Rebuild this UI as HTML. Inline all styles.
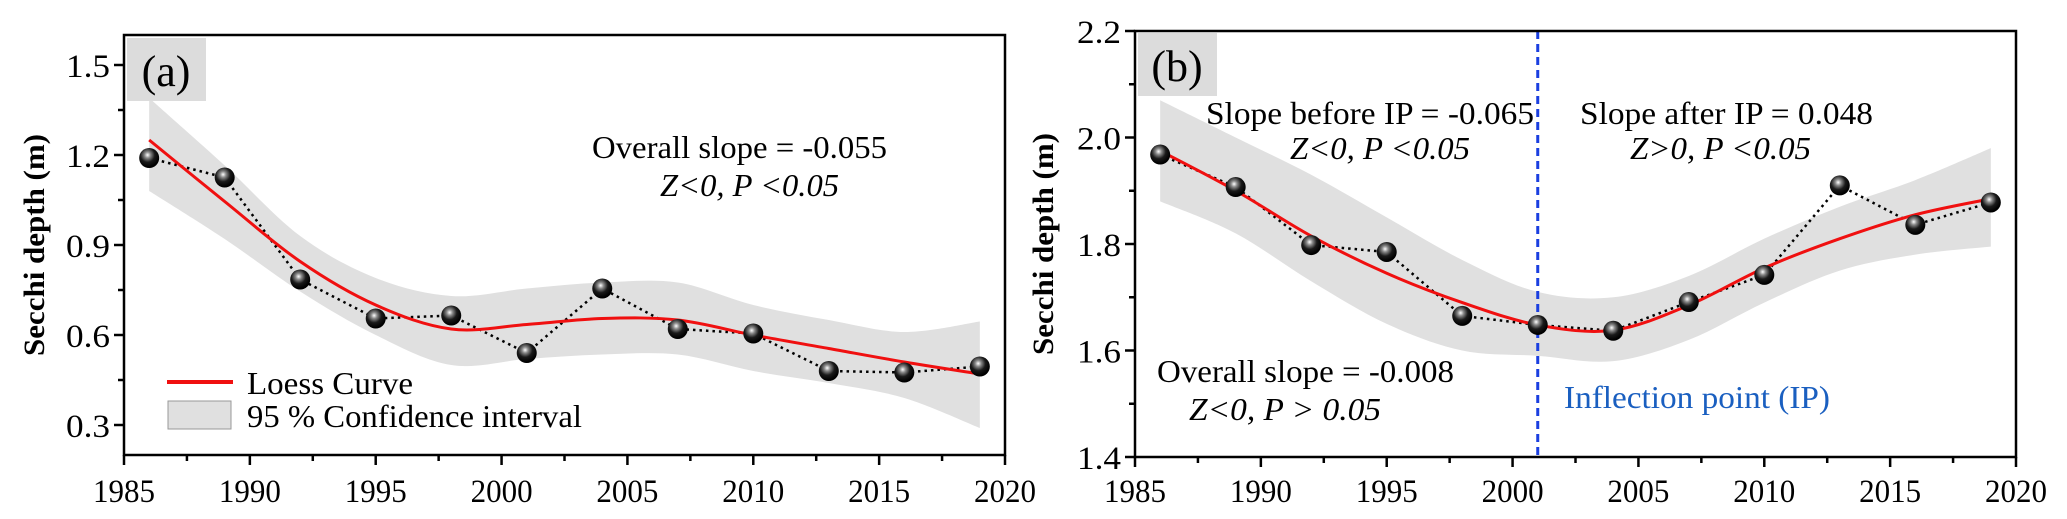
<!DOCTYPE html>
<html><head><meta charset="utf-8"><style>
html,body{margin:0;padding:0;background:#fff;}
svg{display:block;font-family:"Liberation Serif",serif;}
</style></head><body>
<svg id="fig" width="2067" height="519" viewBox="0 0 2067 519" xmlns="http://www.w3.org/2000/svg">
<defs>
<radialGradient id="ball" cx="0.42" cy="0.35" r="0.6">
<stop offset="0" stop-color="#ffffff"/><stop offset="0.25" stop-color="#8a8a8a"/><stop offset="0.6" stop-color="#1a1a1a"/><stop offset="1" stop-color="#000"/>
</radialGradient>
</defs>
<g id="pa"></g>
<g id="pb"></g>
</svg>
<script>
const years = [1986,1989,1992,1995,1998,2001,2004,2007,2010,2013,2016,2019];
const aObs = [1.19,1.125,0.785,0.655,0.665,0.54,0.755,0.62,0.605,0.48,0.475,0.495];
const aLoess = [1.25,1.045,0.845,0.70,0.62,0.635,0.655,0.65,0.60,0.555,0.51,0.47];
const aUpper = [1.39,1.165,0.93,0.79,0.73,0.755,0.775,0.775,0.70,0.65,0.61,0.645];
const aLower = [1.08,0.92,0.745,0.60,0.50,0.52,0.535,0.535,0.48,0.44,0.39,0.29];
const bObs = [1.968,1.907,1.798,1.785,1.665,1.648,1.637,1.691,1.742,1.91,1.836,1.878];
const bLoess = [1.975,1.90,1.815,1.745,1.69,1.648,1.638,1.685,1.755,1.81,1.855,1.885];
const bUpper = [2.07,2.0,1.93,1.85,1.77,1.71,1.70,1.74,1.81,1.87,1.92,1.98];
const bLower = [1.88,1.82,1.73,1.65,1.60,1.59,1.58,1.62,1.69,1.75,1.78,1.795];
const xTicks = [1985,1990,1995,2000,2005,2010,2015,2020];
const aYTicks = [0.3,0.6,0.9,1.2,1.5];
const bYTicks = [1.4,1.6,1.8,2.0,2.2];
const ipYear = 2001;

const NS="http://www.w3.org/2000/svg";
function mk(parent,tag,attrs,text){const e=document.createElementNS(NS,tag);for(const k in attrs)e.setAttribute(k,attrs[k]);if(text!==undefined)e.textContent=text;parent.appendChild(e);return e;}
function smooth(pts){let d=`M${pts[0][0]},${pts[0][1]}`;for(let i=0;i<pts.length-1;i++){const p0=pts[i-1]||pts[i],p1=pts[i],p2=pts[i+1],p3=pts[i+2]||p2;
const c1=[p1[0]+(p2[0]-p0[0])/6,p1[1]+(p2[1]-p0[1])/6],c2=[p2[0]-(p3[0]-p1[0])/6,p2[1]-(p3[1]-p1[1])/6];d+=` C${c1[0]},${c1[1]} ${c2[0]},${c2[1]} ${p2[0]},${p2[1]}`;}return d;}

function panel(g,cfg){
 const X=v=>cfg.x0+(v-1985)/35*(cfg.x1-cfg.x0);
 const Y=v=>cfg.yb+(v-cfg.ymin)/(cfg.ymax-cfg.ymin)*(cfg.yt-cfg.yb);
 const up=years.map((y,i)=>[X(y),Y(cfg.upper[i])]);
 const lo=years.map((y,i)=>[X(y),Y(cfg.lower[i])]).reverse();
 let d=smooth(up)+" L"+lo[0][0]+","+lo[0][1]+smooth(lo).replace(/^M[^C]*/," ")+" Z";
 let e=mk(g,'path',{d:d,fill:'#e0e0e0',stroke:'none'});
 
 
 e=mk(g,'rect',{x:cfg.lb[0],y:cfg.lb[1],width:79,height:63,fill:'#dcdcdc'});
 
 
 e=mk(g,'text',{x:cfg.lb[0]+39,y:cfg.lb[1]+48,'font-size':44,'text-anchor':'middle'},cfg.label);
 
 
 if(cfg.ip){e=mk(g,'line',{x1:X(ipYear),x2:X(ipYear),y1:cfg.yt,y2:cfg.yb,stroke:'#1a3fe0','stroke-width':3,'stroke-dasharray':'8 5'});
 
 }
 e=mk(g,'polyline',{points:years.map((y,i)=>X(y)+","+Y(cfg.obs[i])).join(" "),fill:'none',stroke:'#000','stroke-width':2.5,'stroke-dasharray':'2.5 4'});
 
 
 e=mk(g,'path',{d:smooth(years.map((y,i)=>[X(y),Y(cfg.loess[i])])),fill:'none',stroke:'#f01010','stroke-width':3});
 
 
 years.forEach((y,i)=>{const c=mk(g,'circle',{cx:X(y),cy:Y(cfg.obs[i]),r:10,fill:'url(#ball)'});
 
 });
 e=mk(g,'rect',{x:cfg.x0,y:cfg.yt,width:cfg.x1-cfg.x0,height:cfg.yb-cfg.yt,fill:'none',stroke:'#000','stroke-width':2.5});
 
 
 xTicks.forEach(t=>{mk(g,'line',{x1:X(t),x2:X(t),y1:cfg.yb,y2:cfg.yb+10,stroke:'#000','stroke-width':2.5});
  if(t<2020)mk(g,'line',{x1:X(t+2.5),x2:X(t+2.5),y1:cfg.yb,y2:cfg.yb+6,stroke:'#000','stroke-width':2.5});
  const tl=mk(g,'text',{x:X(t),y:502,'font-size':33,'text-anchor':'middle',textLength:62,lengthAdjust:'spacingAndGlyphs'},String(t));
  
  });
 cfg.yticks.forEach((t,i)=>{mk(g,'line',{x1:cfg.x0-10,x2:cfg.x0,y1:Y(t),y2:Y(t),stroke:'#000','stroke-width':2.5});
  if(i<cfg.yticks.length-1){const m=(t+cfg.yticks[i+1])/2;mk(g,'line',{x1:cfg.x0-6,x2:cfg.x0,y1:Y(m),y2:Y(m),stroke:'#000','stroke-width':2.5});}
  const tl=mk(g,'text',{x:cfg.x0-14,y:Y(t)+12,'font-size':33,'text-anchor':'end',textLength:44,lengthAdjust:'spacingAndGlyphs'},t.toFixed(1));
  
  });
 e=mk(g,'text',{x:0,y:0,'font-size':30,'font-weight':'bold','text-anchor':'middle',transform:`translate(${cfg.tx},${(cfg.yt+cfg.yb)/2}) rotate(-90)`,textLength:222,lengthAdjust:'spacingAndGlyphs'},'Secchi depth (m)');
 
 
}
panel(document.getElementById('pa'),{x0:124,x1:1005,yt:35,yb:455,ymin:0.2,ymax:1.6,obs:aObs,loess:aLoess,upper:aUpper,lower:aLower,yticks:aYTicks,label:'(a)',lb:[127,38],tx:44});
panel(document.getElementById('pb'),{x0:1135,x1:2016,yt:31,yb:457,ymin:1.4,ymax:2.2,obs:bObs,loess:bLoess,upper:bUpper,lower:bLower,yticks:bYTicks,label:'(b)',lb:[1138,33],tx:1053,ip:true});

const pa=document.getElementById('pa'),pb=document.getElementById('pb');
function txt(g,name,x,y,s,opt){const e=mk(g,'text',Object.assign({x:x,y:y,'font-size':32},opt||{}),s);
 
 return e;}
txt(pa,'overall-slope-a',592,158,'Overall slope = -0.055',{textLength:295,lengthAdjust:'spacingAndGlyphs'});
txt(pa,'significance-a',660,196,'Z<0, P <0.05',{'font-style':'italic',textLength:179,lengthAdjust:'spacingAndGlyphs'});
let l=mk(pa,'line',{x1:167,x2:233,y1:382,y2:382,stroke:'#f01010','stroke-width':4});


l=mk(pa,'rect',{x:168,y:401,width:63,height:28,fill:'#e0e0e0',stroke:'#999','stroke-width':1});


txt(pa,'legend-loess-label',247,394,'Loess Curve',{textLength:166,lengthAdjust:'spacingAndGlyphs'});
txt(pa,'legend-ci-label',247,427,'95 % Confidence interval',{textLength:335,lengthAdjust:'spacingAndGlyphs'});
txt(pb,'slope-before-ip',1206,124,'Slope before IP = -0.065',{textLength:328,lengthAdjust:'spacingAndGlyphs'});
txt(pb,'significance-before-ip',1290,159,'Z<0, P <0.05',{'font-style':'italic',textLength:180,lengthAdjust:'spacingAndGlyphs'});
txt(pb,'slope-after-ip',1580,124,'Slope after IP = 0.048',{textLength:293,lengthAdjust:'spacingAndGlyphs'});
txt(pb,'significance-after-ip',1630,159,'Z>0, P <0.05',{'font-style':'italic',textLength:181,lengthAdjust:'spacingAndGlyphs'});
txt(pb,'overall-slope-b',1157,382,'Overall slope = -0.008',{textLength:297,lengthAdjust:'spacingAndGlyphs'});
txt(pb,'significance-overall-b',1189,420,'Z<0, P > 0.05',{'font-style':'italic',textLength:192,lengthAdjust:'spacingAndGlyphs'});
txt(pb,'inflection-point-label',1564,408,'Inflection point (IP)',{fill:'#1a5fc0',textLength:266,lengthAdjust:'spacingAndGlyphs'});
</script>
</body></html>
